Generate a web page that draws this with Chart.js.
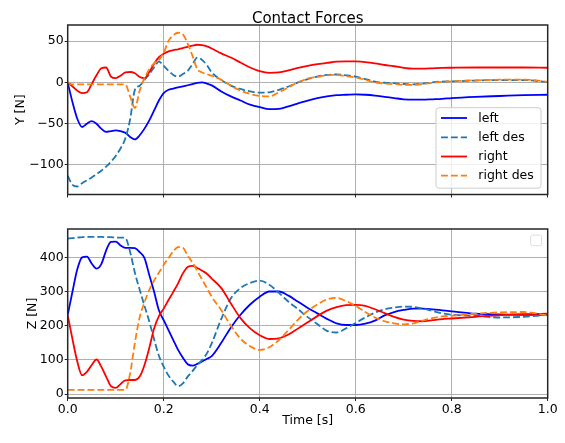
<!DOCTYPE html>
<html>
<head>
<meta charset="utf-8">
<script src="https://cdn.jsdelivr.net/npm/chart.js@4/dist/chart.umd.min.js"></script>
<style>
  body { margin: 0; background: #fff; }
  canvas { position: absolute; left: 0; }
  #top { top: 0; }
  #bottom { top: 215px; }
</style>
</head>
<body>
<canvas id="top" width="565" height="215"></canvas>
<canvas id="bottom" width="565" height="228"></canvas>
<script>
const times = [
  0, 0.01, 0.02, 0.03, 0.04, 0.05, 0.06, 0.07, 0.08, 0.09,
  0.10, 0.11, 0.12, 0.13, 0.14, 0.15, 0.16, 0.17, 0.18, 0.19,
  0.20, 0.21, 0.22, 0.23, 0.24, 0.25, 0.26, 0.27, 0.28, 0.29,
  0.30, 0.32, 0.34, 0.36, 0.38, 0.40, 0.42, 0.44, 0.46, 0.48,
  0.50, 0.52, 0.54, 0.56, 0.58, 0.60, 0.62, 0.64, 0.66, 0.68,
  0.70, 0.72, 0.74, 0.76, 0.78, 0.80, 0.85, 0.90, 0.95, 1.00
];

// Y forces [N]
const yLeft = [
  0, -24, -44, -54, -50, -47, -50, -56, -60, -59,
  -58, -59, -61, -66, -69, -64, -56, -46, -34, -22,
  -13, -9, -7.5, -6, -5, -3.5, -2, -0.5, 0, -1.5,
  -3.6, -11, -17, -22, -27, -30, -32.5, -32, -29, -25.5,
  -22, -19, -17, -15.5, -15, -14.5, -15, -16, -17.5, -19,
  -20.5, -21, -21, -20.5, -20, -19, -17.5, -16.5, -15.5, -15
];
const yLeftDes = [
  -113, -124, -126, -122, -118.5, -115, -111, -107, -102, -96,
  -89, -80, -68, -45, -9, -4, 3, 10, 18, 25,
  20, 14, 9, 7, 10, 14, 22, 30, 27, 21,
  12, 3, -4, -8, -11, -12.5, -12, -9, -5, 0,
  4, 7, 9, 9.5, 8.5, 7, 4, 1, -0.5, -1,
  -2, -2.5, -1.5, 0, 1, 1.2, 2.2, 2.8, 2.8, 0.5
];
const yRight = [
  0, -5, -10, -13, -12, -2, 8.5, 17, 18, 7,
  5, 8, 12, 12.5, 11, 6.5, 5, 12.5, 22.5, 30.5,
  34.5, 37.5, 39, 40, 41.5, 43, 44.5, 45.5, 45, 43.5,
  41, 35, 30, 24, 18, 13.5, 11.5, 12, 14.5, 17.5,
  20, 22, 23.5, 25, 25.5, 25.3, 24.5, 23, 21, 19.5,
  17.5, 16.5, 16.5, 17, 17.5, 17.7, 18, 18, 18, 17.7
];
const yRightDes = [
  0, -2.5, -2.5, -2.5, -2.5, -2.5, -2.5, -2.5, -2.5, -2.5,
  -2.5, -2.5, -2.5, -17, -31, -10, 5, 16, 23, 27,
  36, 50, 57, 60, 58, 47, 32, 16, 12, 10,
  8, 3, -4, -10, -14, -16.5, -17, -12, -6, 0,
  4.5, 6.5, 8.5, 9, 7.5, 6, 3, 0, -1.5, -2,
  -3, -3, -2, -0.5, 0.5, 1.2, 2.5, 3.2, 3.4, 0.5
];

// Z forces [N]
const zLeft = [
  231, 300, 365, 400, 402, 382, 367, 380, 420, 445,
  446, 435, 428, 428, 427, 415, 398, 348, 299, 245,
  216, 187, 158, 129, 106, 87, 83, 88, 95, 103,
  111, 150, 195, 232, 262, 285, 300, 300, 288, 270,
  252, 236, 220, 207, 202, 202, 206, 215, 230, 240,
  246, 250, 250, 248, 245, 242, 235, 233, 232, 232
];
const zLeftDes = [
  455, 456, 458, 459, 460, 460, 460, 460, 459, 459,
  458, 458, 457, 416, 355, 305, 258, 212, 160, 112,
  80, 54, 36, 23, 31, 51, 67, 85, 99, 119,
  148, 220, 280, 310, 325, 332, 320, 296, 270, 248,
  225, 205, 185, 180, 192, 208, 224, 238, 248, 253,
  256, 255, 250, 243, 236, 232, 229, 224, 226, 232
];
const zRight = [
  231, 160, 95, 55, 65, 85, 101, 80, 51, 23,
  18, 29, 40, 41, 41, 51, 85, 135, 192, 228,
  250, 275, 299, 324, 353, 372, 375, 369, 361, 352,
  338, 310, 265, 222, 192, 172, 161, 163, 174, 192,
  210, 228, 244, 254, 260, 261, 258, 248, 237, 226,
  218, 214, 213, 216, 219, 221, 226, 231, 234, 235
];
const zRightDes = [
  12, 12, 12, 12, 12, 12, 12, 12, 12, 12,
  12, 12, 12, 60, 150, 225, 268, 305, 332, 355,
  378, 398, 418, 430, 428, 405, 385, 360, 335, 310,
  285, 245, 200, 162, 140, 129, 137, 158, 187, 218,
  243, 262, 277, 281, 272, 258, 240, 224, 213, 207,
  204, 207, 215, 222, 227, 229, 235, 239, 240, 230
];

const xTicks = [0, 0.2, 0.4, 0.6, 0.8, 1.0];
const yTicks = [-100, -50, 0, 50];
const zTicks = [0, 100, 200, 300, 400];
const seriesNames = ["left", "left des", "right", "right des"];
const seriesColors = ["#0000ff", "#1f77b4", "#ff0000", "#ff7f0e"];
const seriesDashed = [false, true, false, true];

const FONT = "DejaVu Sans";
const DASH = [6.9, 3];

function makeDatasets(arrays) {
  return arrays.map((arr, i) => ({
    label: seriesNames[i],
    data: times.map((t, k) => ({ x: t, y: arr[k] })),
    borderColor: seriesColors[i],
    borderWidth: 1.8,
    borderDash: seriesDashed[i] ? DASH : [],
    pointRadius: 0,
    fill: false,
    cubicInterpolationMode: "monotone",
    order: 3 - i,
  }));
}

function fmtMinus(v) {
  return String(v).replace("-", "\u2212");
}

function gridOpts() {
  return {
    color: "#b0b0b0",
    lineWidth: 1,
    tickLength: 3,
    tickColor: "#262626",
    tickWidth: 1,
  };
}

function makeOptions(cfg) {
  return {
    responsive: false,
    animation: false,
    layout: { padding: { top: cfg.padTop, right: 17.3, left: 0, bottom: 0 } },
    plugins: { legend: { display: false }, tooltip: { enabled: false } },
    scales: {
      x: {
        type: "linear",
        min: 0,
        max: 1,
        afterBuildTicks: (s) => { s.ticks = xTicks.map((v) => ({ value: v })); },
        afterFit: (s) => { s.height = cfg.xHeight; },
        ticks: {
          display: cfg.showX,
          color: "#000",
          padding: 1,
          maxRotation: 0,
          font: { family: FONT, size: 12.5 },
          callback: (v) => Number(v).toFixed(1),
        },
        grid: gridOpts(),
        border: { display: false },
      },
      y: {
        type: "linear",
        min: cfg.min,
        max: cfg.max,
        afterBuildTicks: (s) => { s.ticks = cfg.ticks.map((v) => ({ value: v })); },
        afterFit: (s) => { s.width = 67.7; },
        ticks: {
          color: "#000",
          padding: 1,
          font: { family: FONT, size: 12.5 },
          callback: (v) => fmtMinus(v),
        },
        grid: gridOpts(),
        border: { display: false },
      },
    },
  };
}

// frame, titles and legends drawn on top of the chart area
function decorPlugin(cfg) {
  return {
    id: "decor",
    afterDraw(chart) {
      const { ctx, chartArea: a } = chart;
      ctx.save();
      ctx.strokeStyle = "#262626";
      ctx.lineWidth = 1.5;
      ctx.strokeRect(a.left, a.top, a.right - a.left, a.bottom - a.top);

      ctx.fillStyle = "#000";
      ctx.textAlign = "center";
      if (cfg.title) {
        ctx.font = `15px "${FONT}"`;
        ctx.textBaseline = "alphabetic";
        ctx.fillText(cfg.title, (a.left + a.right) / 2, 23);
      }
      if (cfg.xLabel) {
        ctx.font = `12.5px "${FONT}"`;
        ctx.textBaseline = "alphabetic";
        ctx.fillText(cfg.xLabel, (a.left + a.right) / 2, cfg.xLabelY);
      }
      ctx.save();
      ctx.translate(cfg.yLabelX, (a.top + a.bottom) / 2);
      ctx.rotate(-Math.PI / 2);
      ctx.font = `12.5px "${FONT}"`;
      ctx.textBaseline = "middle";
      ctx.fillText(cfg.yLabel, 0, 0);
      ctx.restore();

      if (cfg.legend) {
        const bx = 436, by = 107.7, bw = 105, bh = 80.5;
        roundRect(ctx, bx, by, bw, bh, 3);
        ctx.fillStyle = "rgba(255,255,255,0.8)";
        ctx.fill();
        ctx.strokeStyle = "#cccccc";
        ctx.lineWidth = 1;
        ctx.stroke();
        const rows = [118, 137.3, 156.5, 175.7];
        ctx.font = `12.5px "${FONT}"`;
        ctx.textAlign = "left";
        ctx.textBaseline = "middle";
        chart.data.datasets.forEach((ds, i) => {
          ctx.beginPath();
          ctx.strokeStyle = ds.borderColor;
          ctx.lineWidth = ds.borderWidth;
          ctx.setLineDash(ds.borderDash || []);
          ctx.moveTo(441, rows[i]);
          ctx.lineTo(467, rows[i]);
          ctx.stroke();
          ctx.setLineDash([]);
          ctx.fillStyle = "#000";
          ctx.fillText(ds.label, 478.3, rows[i] + 0.5);
        });
      }
      if (cfg.emptyLegend) {
        roundRect(ctx, 530.7, 20, 11, 10.7, 2);
        ctx.fillStyle = "rgba(255,255,255,0.8)";
        ctx.fill();
        ctx.strokeStyle = "#dddddd";
        ctx.lineWidth = 1;
        ctx.stroke();
      }
      ctx.restore();
    },
  };
}

function roundRect(ctx, x, y, w, h, r) {
  ctx.beginPath();
  ctx.moveTo(x + r, y);
  ctx.lineTo(x + w - r, y);
  ctx.arcTo(x + w, y, x + w, y + r, r);
  ctx.lineTo(x + w, y + h - r);
  ctx.arcTo(x + w, y + h, x + w - r, y + h, r);
  ctx.lineTo(x + r, y + h);
  ctx.arcTo(x, y + h, x, y + h - r, r);
  ctx.lineTo(x, y + r);
  ctx.arcTo(x, y, x + r, y, r);
  ctx.closePath();
}

new Chart(document.getElementById("top").getContext("2d"), {
  type: "line",
  data: { datasets: makeDatasets([yLeft, yLeftDes, yRight, yRightDes]) },
  options: makeOptions({
    padTop: 25, xHeight: 20.5, showX: false,
    min: -135.7, max: 69.4, ticks: yTicks,
  }),
  plugins: [decorPlugin({ title: "Contact Forces", yLabel: "Y [N]", yLabelX: 21, legend: true })],
});

new Chart(document.getElementById("bottom").getContext("2d"), {
  type: "line",
  data: { datasets: makeDatasets([zLeft, zLeftDes, zRight, zRightDes]) },
  options: makeOptions({
    padTop: 14, xHeight: 45, showX: true,
    min: -11.7, max: 483, ticks: zTicks,
  }),
  plugins: [decorPlugin({ yLabel: "Z [N]", yLabelX: 32.5, xLabel: "Time [s]", xLabelY: 209, emptyLegend: true })],
});
</script>
</body>
</html>
